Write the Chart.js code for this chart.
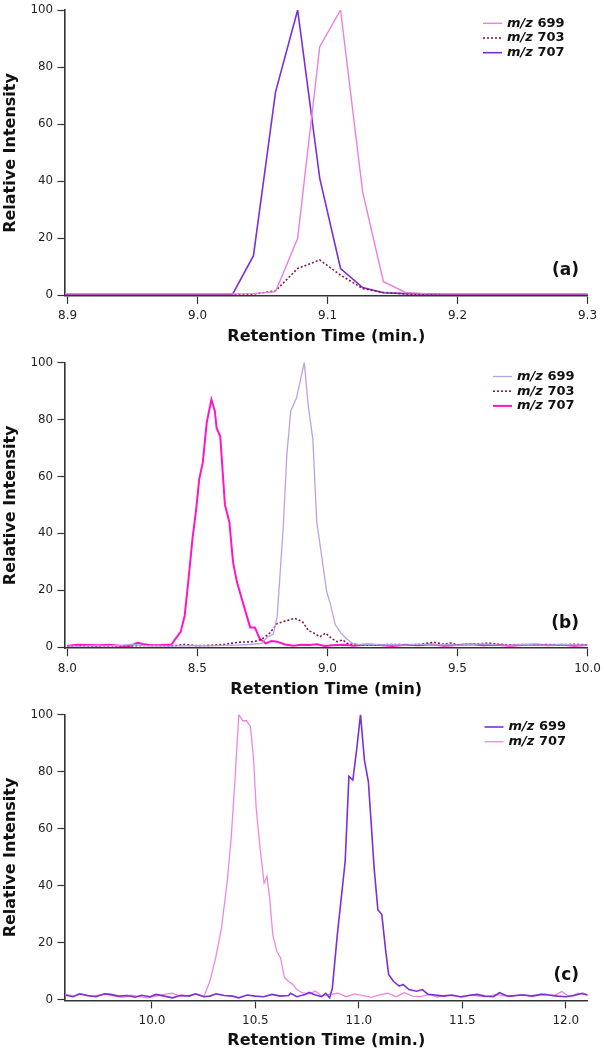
<!DOCTYPE html>
<html>
<head>
<meta charset="utf-8">
<script src="https://cdn.jsdelivr.net/npm/chart.js@4.4.1/dist/chart.umd.min.js"></script>
<style>
  html, body { margin: 0; padding: 0; background: #fff; }
  canvas { display: block; }
</style>
</head>
<body>
<canvas id="chartA" width="605" height="350"></canvas>
<canvas id="chartB" width="605" height="350"></canvas>
<canvas id="chartC" width="605" height="350"></canvas>
<script>
// tick labels
const yTicks = [0, 20, 40, 60, 80, 100];
const xTicksA = [8.9, 9.0, 9.1, 9.2, 9.3];
const xTicksB = [8.0, 8.5, 9.0, 9.5, 10.0];
const xTicksC = [10.0, 10.5, 11.0, 11.5, 12.0];

// series labels
const labelsA = ['m/z 699', 'm/z 703', 'm/z 707'];
const labelsB = ['m/z 699', 'm/z 703', 'm/z 707'];
const labelsC = ['m/z 699', 'm/z 707'];

// panel (a): [time, relative intensity]
const a699 = [[8.893,0.4],[8.910,0.4],[8.927,0.4],[8.943,0.4],[8.960,0.4],[8.977,0.4],[8.993,0.4],[9.010,0.4],[9.027,0.4],[9.043,0.5],[9.060,1.2],[9.077,19.9],[9.094,87.1],[9.110,100],[9.127,36.2],[9.143,4.7],[9.160,0.9],[9.177,0.5],[9.193,0.4],[9.210,0.4],[9.227,0.4],[9.243,0.4],[9.260,0.4],[9.277,0.4],[9.293,0.4],[9.310,0.4]];
const a703 = [[8.893,0.1],[8.910,0.1],[8.927,0.1],[8.943,0.1],[8.960,0.1],[8.977,0.1],[8.993,0.1],[9.010,0.1],[9.027,0.1],[9.043,0.3],[9.060,1.5],[9.077,9.3],[9.094,12.3],[9.110,7.0],[9.127,2.3],[9.143,0.9],[9.160,0.4],[9.177,0.2],[9.193,0.1],[9.210,0.1],[9.227,0.1],[9.243,0.1],[9.260,0.1],[9.277,0.1],[9.293,0.1],[9.310,0.1]];
const a707 = [[8.893,0.3],[8.910,0.3],[8.927,0.3],[8.943,0.3],[8.960,0.3],[8.977,0.3],[8.993,0.3],[9.010,0.3],[9.027,0.3],[9.043,13.8],[9.060,71.3],[9.077,100],[9.094,40.9],[9.110,9.3],[9.127,2.6],[9.143,0.8],[9.160,0.5],[9.177,0.4],[9.193,0.3],[9.210,0.3],[9.227,0.3],[9.243,0.3],[9.260,0.3],[9.277,0.3],[9.293,0.3],[9.310,0.3]];

// panel (b)
const b699 = [[8.00,0.5],[8.05,0.4],[8.10,0.6],[8.15,0.5],[8.20,0.7],[8.25,1.0],[8.30,0.6],[8.35,0.5],[8.40,0.4],[8.45,0.5],[8.50,0.6],[8.55,0.5],[8.60,0.7],[8.65,0.8],[8.70,1.0],[8.748,1.4],[8.770,3.7],[8.792,4.6],[8.807,11],[8.830,42],[8.844,67.6],[8.859,83],[8.881,87.5],[8.911,100],[8.926,85],[8.944,73],[8.959,44],[8.978,32],[8.997,19.6],[9.012,15],[9.030,8],[9.052,5],[9.074,3],[9.096,1.4],[9.119,1.0],[9.16,1.1],[9.20,0.9],[9.25,1.0],[9.30,0.8],[9.35,1.1],[9.40,0.9],[9.45,1.0],[9.50,0.8],[9.55,1.0],[9.60,1.2],[9.65,0.9],[9.70,0.8],[9.75,1.0],[9.80,0.9],[9.85,0.8],[9.90,1.0],[9.95,0.9],[10.0,0.8]];
const b703 = [[8.00,0.5],[8.05,0.6],[8.10,0.4],[8.15,0.5],[8.20,0.6],[8.25,0.5],[8.30,0.7],[8.35,0.6],[8.40,0.5],[8.45,1.0],[8.50,0.6],[8.55,0.7],[8.60,1.0],[8.66,1.8],[8.72,2.0],[8.75,3.0],[8.778,5],[8.807,8.4],[8.837,9.2],[8.874,10.2],[8.904,9],[8.926,6],[8.948,5],[8.971,3.7],[8.993,5],[9.015,3.2],[9.037,2],[9.06,2.6],[9.074,1.4],[9.10,1.0],[9.15,0.8],[9.20,0.9],[9.25,1.0],[9.30,0.9],[9.35,1.0],[9.41,1.8],[9.45,1.0],[9.47,1.6],[9.50,0.9],[9.55,1.0],[9.62,1.5],[9.65,1.1],[9.70,0.9],[9.75,1.0],[9.80,0.8],[9.85,1.0],[9.90,0.9],[9.95,1.1],[10.0,0.8]];
const b707 = [[8.00,0.6],[8.04,0.9],[8.08,0.8],[8.12,0.7],[8.16,0.9],[8.20,0.6],[8.24,0.5],[8.27,1.6],[8.29,1.2],[8.32,0.7],[8.36,0.8],[8.40,1.0],[8.436,5.5],[8.451,11],[8.466,24],[8.481,38],[8.496,49],[8.507,59],[8.521,65],[8.536,79],[8.554,87],[8.567,83],[8.574,77],[8.588,74],[8.606,50],[8.623,44],[8.637,30],[8.652,23],[8.674,16],[8.703,7],[8.721,7],[8.740,3],[8.763,1.4],[8.785,2.2],[8.807,2.0],[8.837,1.0],[8.87,0.6],[8.90,0.9],[8.93,0.8],[8.96,1.1],[8.99,0.5],[9.02,0.7],[9.06,0.9],[9.10,0.6],[9.15,1.0],[9.20,0.8],[9.25,0.5],[9.30,0.9],[9.35,0.7],[9.40,1.0],[9.45,0.6],[9.50,0.8],[9.55,1.1],[9.60,0.7],[9.65,0.9],[9.70,0.6],[9.75,0.8],[9.80,1.0],[9.85,0.7],[9.90,0.9],[9.95,0.6],[10.0,0.8]];

// panel (c)
const c699 = [[9.585,1.5],[9.62,1.0],[9.65,2.0],[9.69,1.4],[9.73,1.0],[9.77,2.0],[9.80,1.8],[9.84,1.2],[9.88,1.4],[9.92,0.8],[9.95,1.5],[9.99,1.0],[10.02,1.8],[10.06,1.2],[10.10,0.6],[10.14,1.5],[10.18,1.2],[10.21,2.0],[10.25,1.0],[10.28,1.2],[10.31,2.0],[10.35,1.4],[10.39,1.2],[10.42,0.6],[10.46,1.6],[10.50,1.2],[10.54,1.0],[10.58,1.8],[10.62,1.2],[10.66,1.4],[10.67,2.2],[10.70,1.0],[10.74,1.8],[10.76,2.5],[10.79,1.6],[10.82,1.0],[10.84,2.2],[10.859,0.6],[10.872,4],[10.896,22.8],[10.915,35.6],[10.934,48.5],[10.952,78.3],[10.971,77],[10.99,88],[11.008,100],[11.027,84],[11.046,76.5],[11.059,62.5],[11.074,46],[11.092,31.5],[11.111,29.8],[11.13,17],[11.144,8.8],[11.167,6.4],[11.195,4.7],[11.214,5.3],[11.242,3.5],[11.279,2.9],[11.307,3.5],[11.335,1.8],[11.37,1.6],[11.41,1.2],[11.45,1.6],[11.49,1.0],[11.53,1.4],[11.57,1.8],[11.61,1.2],[11.65,1.0],[11.68,2.4],[11.72,1.2],[11.76,1.4],[11.80,1.6],[11.84,1.2],[11.88,1.8],[11.92,1.6],[11.96,1.2],[12.00,1.0],[12.04,1.4],[12.08,2.2],[12.11,1.5]];
const c707 = [[9.585,1.8],[9.62,1.2],[9.66,2.0],[9.70,1.0],[9.74,1.5],[9.78,1.8],[9.82,1.2],[9.86,0.8],[9.90,1.5],[9.94,1.0],[9.98,0.6],[10.02,1.2],[10.06,1.8],[10.10,2.2],[10.14,1.0],[10.18,1.5],[10.22,1.9],[10.252,1.2],[10.28,6.4],[10.308,14.6],[10.336,25],[10.364,41.5],[10.383,56.7],[10.401,76.5],[10.420,100],[10.439,97.8],[10.457,97.8],[10.476,95.8],[10.491,84.7],[10.504,67],[10.523,53],[10.542,40.9],[10.556,43.2],[10.569,35.6],[10.584,22.8],[10.603,17],[10.622,14.6],[10.640,7.8],[10.659,6.4],[10.681,5.3],[10.700,3.5],[10.728,2.3],[10.76,2.0],[10.79,3.0],[10.82,1.2],[10.86,1.8],[10.90,2.2],[10.94,1.0],[10.98,2.0],[11.02,1.4],[11.06,0.8],[11.10,1.6],[11.14,2.2],[11.18,1.0],[11.22,2.4],[11.26,1.2],[11.30,1.0],[11.34,1.8],[11.38,0.9],[11.42,1.5],[11.46,1.3],[11.50,0.8],[11.54,1.6],[11.58,1.2],[11.62,1.0],[11.66,1.7],[11.70,1.4],[11.74,1.0],[11.78,1.8],[11.82,1.2],[11.86,1.6],[11.90,2.0],[11.94,1.2],[11.98,2.8],[12.02,1.0],[12.06,2.2],[12.11,1.5]];

const FONT = '"DejaVu Sans", Verdana, sans-serif';

// legend + panel tag, drawn inside the plot area
const panelDecor = {
  id: 'panelDecor',
  afterDraw(chart, args, opts) {
    const ctx = chart.ctx;
    const area = chart.chartArea;
    ctx.save();
    chart.data.datasets.forEach((ds, i) => {
      const y = opts.legendY + i * 14.7;
      ctx.beginPath();
      ctx.strokeStyle = ds.borderColor;
      ctx.lineWidth = ds.borderWidth;
      ctx.setLineDash(ds.borderDash || []);
      ctx.moveTo(opts.legendX, y);
      ctx.lineTo(opts.legendX + 19, y);
      ctx.stroke();
      ctx.setLineDash([]);
      const [mz, num] = ds.label.split(' ');
      ctx.fillStyle = '#111';
      ctx.textBaseline = 'middle';
      ctx.textAlign = 'left';
      ctx.font = 'italic bold 13px ' + FONT;
      let x = opts.legendX + 24;
      ctx.fillText(mz, x, y);
      x += ctx.measureText(mz + ' ').width;
      ctx.font = 'bold 13px ' + FONT;
      ctx.fillText(num, x, y);
    });
    ctx.font = 'bold 17px ' + FONT;
    ctx.textAlign = 'right';
    ctx.textBaseline = 'middle';
    ctx.fillStyle = '#111';
    ctx.fillText(opts.tag, area.right - 8.5, area.bottom - 25);
    ctx.restore();
  }
};

function series(label, points, color, width, dash) {
  return {
    label,
    data: points.map(p => ({ x: p[0], y: p[1] })),
    borderColor: color,
    borderWidth: width,
    borderDash: dash || [],
    pointRadius: 0,
    tension: 0,
    fill: false,
  };
}

function makeChart(id, p) {
  new Chart(document.getElementById(id), {
    type: 'line',
    data: { datasets: p.datasets },
    plugins: [panelDecor],
    options: {
      responsive: false,
      animation: false,
      layout: { padding: { top: p.top, left: 0, right: 17.5, bottom: 0 } },
      plugins: {
        legend: { display: false },
        tooltip: { enabled: false },
        panelDecor: { tag: p.tag, legendX: p.legendX, legendY: p.legendY },
      },
      scales: {
        x: {
          type: 'linear',
          min: p.xmin,
          max: p.xmax,
          afterBuildTicks: axis => { axis.ticks = p.xTicks.map(v => ({ value: v })); },
          afterFit: axis => {
            axis.height = 350 - p.bottom;
            axis.paddingLeft = 0;
            axis.paddingRight = 0;
          },
          ticks: {
            autoSkip: false,
            maxRotation: 0,
            padding: 5,
            color: '#222',
            font: { family: FONT, size: 12 },
            callback: v => v.toFixed(1),
          },
          grid: { drawOnChartArea: false, tickLength: 8, tickColor: '#333', tickWidth: 1.2 },
          border: { color: '#333', width: 1.6 },
          title: {
            display: true,
            text: p.xTitle,
            color: '#111',
            font: { family: FONT, size: 16, weight: 'bold' },
            padding: { top: 0, bottom: p.titlePad },
          },
        },
        y: {
          min: -0.3,
          max: 100,
          afterBuildTicks: axis => { axis.ticks = yTicks.map(v => ({ value: v })); },
          afterFit: axis => {
            axis.width = 65;
            axis.paddingTop = 0;
            axis.paddingBottom = 0;
          },
          ticks: {
            padding: 4.5,
            color: '#222',
            font: { family: FONT, size: 11.8 },
          },
          grid: { drawOnChartArea: false, tickLength: 7.5, tickColor: '#333', tickWidth: 1.2 },
          border: { color: '#333', width: 1.6 },
          title: {
            display: true,
            text: 'Relative Intensity',
            color: '#111',
            font: { family: FONT, size: 16, weight: 'bold' },
            padding: { top: 1.5, bottom: 0 },
          },
        },
      },
    },
  });
}

makeChart('chartA', {
  tag: '(a)', top: 10, bottom: 295.9, titlePad: 3.4,
  xmin: 8.898, xmax: 9.3, xTicks: xTicksA, xTitle: 'Retention Time (min.)',
  legendX: 483, legendY: 23.3,
  datasets: [
    series(labelsA[0], a699, '#ec7fe0', 1.4),
    series(labelsA[1], a703, '#8a1550', 1.6, [2, 2]),
    series(labelsA[2], a707, '#7b2fd9', 1.6),
  ],
});

makeChart('chartB', {
  tag: '(b)', top: 12.5, bottom: 298.2, titlePad: 1,
  xmin: 7.991, xmax: 10.0, xTicks: xTicksB, xTitle: 'Retention Time (min)',
  legendX: 493, legendY: 26.5,
  datasets: [
    series(labelsB[0], b699, '#b8a2e6', 1.3),
    series(labelsB[1], b703, '#8a1550', 1.6, [2, 2]),
    series(labelsB[2], b707, '#ff14c8', 2),
  ],
});

makeChart('chartC', {
  tag: '(c)', top: 14.5, bottom: 300.4, titlePad: 0,
  xmin: 9.58, xmax: 12.105, xTicks: xTicksC, xTitle: 'Retention Time (min.)',
  legendX: 484.5, legendY: 27,
  datasets: [
    series(labelsC[0], c699, '#7b2fd9', 1.6),
    series(labelsC[1], c707, '#ef85e2', 1.3),
  ],
});
</script>
</body>
</html>
